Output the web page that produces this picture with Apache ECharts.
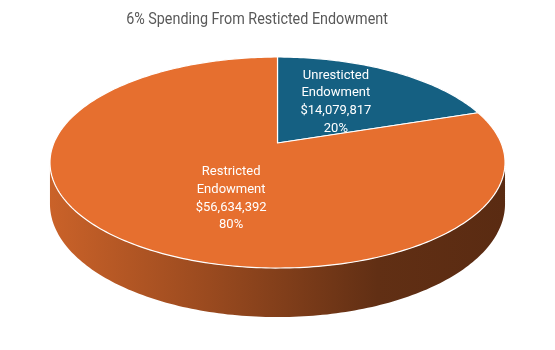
<!DOCTYPE html>
<html>
<head>
<meta charset="utf-8">
<script src="https://cdn.jsdelivr.net/npm/echarts@6/dist/echarts.min.js"></script>
<style>html,body{margin:0;padding:0;background:#fff;}#main{width:555px;height:350px;}</style>
</head>
<body>
<div id="main"></div>
<script>
// ---- data ----
const chartTitle = '6% Spending From Resticted Endowment';
const categories = ['Unresticted Endowment', 'Restricted Endowment'];
const values = [14079817, 56634392];

// ---- styles ----
const sliceColors = ['#156082', '#E66F2F'];
const labelFont = '13px Roboto';
const LAYOUT = { cx: 277.5, cy: 143, A: 223.6, B: 101.9, k: 0.185, D: 40 };

const total = values.reduce((a, b) => a + b, 0);
const cum = [];
values.reduce((acc, v, i) => { cum[i] = acc; return acc + v; }, 0);

function proj(theta, r, drop) {
  const L = LAYOUT;
  const u = r * Math.sin(theta), v = r * Math.cos(theta);
  const w = 1 + L.k * v;
  return [L.cx + L.A * u / w, L.cy - L.B * v / w + drop / w];
}
function arcPts(a, b, drop) {
  const pts = [];
  const n = Math.max(2, Math.ceil(Math.abs(b - a) / (Math.PI / 180)));
  for (let i = 0; i <= n; i++) pts.push(proj(a + (b - a) * i / n, 1, drop));
  return pts;
}
function darken(hex, f) {
  const h = hex.replace('#', '');
  const r = parseInt(h.substr(0, 2), 16), g = parseInt(h.substr(2, 2), 16), b = parseInt(h.substr(4, 2), 16);
  return 'rgb(' + Math.round(r * f) + ',' + Math.round(g * f) + ',' + Math.round(b * f) + ')';
}
function fmtMoney(v) { return '$' + v.toLocaleString('en-US'); }

const th1 = Math.acos(-LAYOUT.k), th2 = 2 * Math.PI - th1;

function renderItem(params, api) {
  const i = params.dataIndex;
  const val = api.value(0);
  const s = cum[i] / total * 2 * Math.PI;
  const e = (cum[i] + val) / total * 2 * Math.PI;
  const col = sliceColors[i % sliceColors.length];
  const children = [];
  // side
  const a = Math.max(s, th1), b = Math.min(e, th2);
  if (b > a) {
    const top = arcPts(a, b, 0);
    const bot = arcPts(b, a, LAYOUT.D);
    children.push({
      type: 'polygon', z2: 1,
      shape: { points: top.concat(bot) },
      style: {
        fill: {
          type: 'linear', global: true,
          x: LAYOUT.cx - LAYOUT.A * 1.02, y: 0, x2: LAYOUT.cx + LAYOUT.A * 1.02, y2: 0,
          colorStops: [
            { offset: 0, color: darken(col, 0.88) },
            { offset: 0.35, color: darken(col, 0.67) },
            { offset: 0.72, color: darken(col, 0.42) },
            { offset: 1, color: darken(col, 0.39) }
          ]
        },
        stroke: null
      }
    });
  }
  // top face
  const pts = [proj(0, 0, 0)].concat(arcPts(s, e, 0));
  children.push({
    type: 'polygon', z2: 10,
    shape: { points: pts },
    style: { fill: col, stroke: '#ffffff', lineWidth: 1.2, lineJoin: 'round' }
  });
  // label
  const mid = (s + e) / 2;
  const lv = 0.58 * Math.cos(mid);
  const w = 1 + LAYOUT.k * lv;
  const lx = LAYOUT.cx + 6 + LAYOUT.A * 0.40 * Math.sin(mid);
  const ly = LAYOUT.cy + 3 - LAYOUT.B * lv / w;
  const pct = Math.round(val / total * 100) + '%';
  children.push({
    type: 'text', z2: 20,
    x: lx, y: ly,
    style: {
      text: categories[i].replace(' ', '\n') + '\n' + fmtMoney(val) + '\n' + pct,
      fill: '#ffffff', font: labelFont, align: 'center', verticalAlign: 'middle',
      lineHeight: 17.7
    }
  });
  return { type: 'group', children };
}

const chart = echarts.init(document.getElementById('main'), null, { renderer: 'canvas' });
chart.setOption({
  animation: false,
  backgroundColor: '#ffffff',
  graphic: [{
    type: 'text', x: 257, y: 20, scaleX: 0.87, scaleY: 1,
    style: { text: chartTitle, fill: '#595959', font: '16.5px Roboto', align: 'center', verticalAlign: 'middle' }
  }],
  series: [{
    type: 'custom',
    coordinateSystem: 'none',
    renderItem: renderItem,
    data: values.map((v, i) => ({ name: categories[i], value: [v] }))
  }]
});
</script>
</body>
</html>
